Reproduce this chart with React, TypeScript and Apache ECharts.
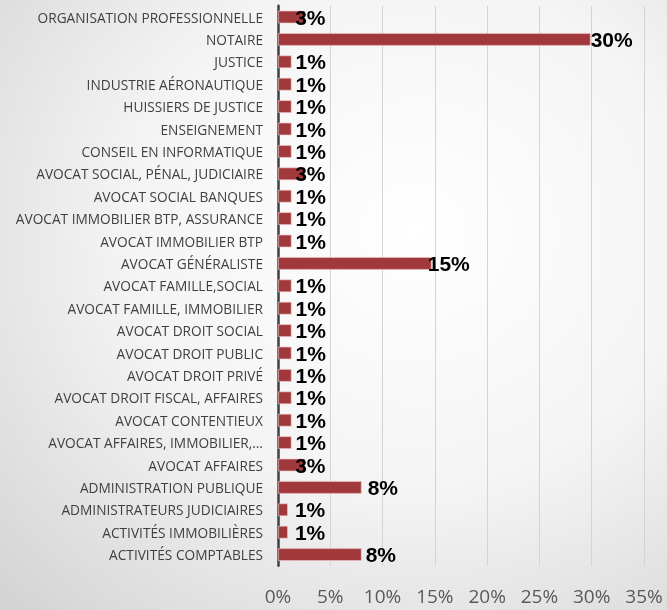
import React, { useEffect, useRef } from "react";
import * as echarts from "echarts";

// Categories, top to bottom as in the picture
const categories: string[] = [
  "ORGANISATION PROFESSIONNELLE",
  "NOTAIRE",
  "JUSTICE",
  "INDUSTRIE AÉRONAUTIQUE",
  "HUISSIERS DE JUSTICE",
  "ENSEIGNEMENT",
  "CONSEIL EN INFORMATIQUE",
  "AVOCAT SOCIAL, PÉNAL, JUDICIAIRE",
  "AVOCAT SOCIAL BANQUES",
  "AVOCAT IMMOBILIER BTP, ASSURANCE",
  "AVOCAT IMMOBILIER BTP",
  "AVOCAT GÉNÉRALISTE",
  "AVOCAT FAMILLE,SOCIAL",
  "AVOCAT FAMILLE, IMMOBILIER",
  "AVOCAT DROIT SOCIAL",
  "AVOCAT DROIT PUBLIC",
  "AVOCAT DROIT PRIVÉ",
  "AVOCAT DROIT FISCAL, AFFAIRES",
  "AVOCAT CONTENTIEUX",
  "AVOCAT AFFAIRES, IMMOBILIER,…",
  "AVOCAT AFFAIRES",
  "ADMINISTRATION PUBLIQUE",
  "ADMINISTRATEURS JUDICIAIRES",
  "ACTIVITÉS IMMOBILIÈRES",
  "ACTIVITÉS COMPTABLES",
];

// Share in percent
const shares: number[] = [
  2.6, 29.9, 1.3, 1.3, 1.3, 1.3, 1.3, 2.6, 1.3, 1.3, 1.3, 14.7, 1.3, 1.3, 1.3,
  1.3, 1.3, 1.3, 1.3, 1.3, 2.6, 8.0, 0.95, 0.95, 8.0,
];

const xTicks: number[] = [0, 5, 10, 15, 20, 25, 30, 35];

// label horizontal nudges (style only)
const labelNudge: Record<number, number> = { 0: -14, 7: -14, 20: -14, 11: -8, 1: -4, 22: 3, 23: 3, 21: 2 };

export default function App() {
  const ref = useRef<HTMLDivElement>(null);
  useEffect(() => {
    if (!ref.current) return;
    const chart = echarts.init(ref.current, undefined, { renderer: "svg" });
    const data = shares.map((v, i) => {
      const item: any = { value: v };
      if (labelNudge[i] !== undefined) {
        item.label = { offset: [labelNudge[i], 0] };
      }
      return item;
    });
    chart.setOption({
      animation: false,
      backgroundColor: new echarts.graphic.RadialGradient(0.62, 0.38, 0.95, [
        { offset: 0, color: "#ffffff" },
        { offset: 0.45, color: "#f4f4f4" },
        { offset: 1, color: "#cdcdcd" },
      ]),
      grid: { left: 278, right: 23, top: 5.8, bottom: 44.2, containLabel: false },
      xAxis: {
        type: "value",
        min: xTicks[0],
        max: xTicks[xTicks.length - 1],
        interval: 5,
        axisLine: { show: false },
        axisTick: { show: false },
        splitLine: { show: true, lineStyle: { color: "#d4d4d4", width: 1 } },
        axisLabel: {
          formatter: "{value}%",
          color: "#595959",
          fontSize: 19,
          fontFamily: "Open Sans",
          margin: 21,
        },
      },
      yAxis: {
        type: "category",
        data: categories,
        inverse: true,
        axisLine: { show: true, lineStyle: { color: "#404040", width: 2.5 } },
        axisTick: { show: false },
        axisLabel: {
          color: "#404040",
          fontSize: 13.7,
          fontFamily: "Open Sans",
          margin: 15,
        },
      },
      series: [
        {
          type: "bar",
          data,
          barCategoryGap: "43%",
          itemStyle: {
            color: "#a1383c",
            borderColor: "rgba(240,200,200,0.8)",
            borderWidth: 0.8,
          },
          label: {
            show: true,
            position: "right",
            distance: 4,
            formatter: (p: any) => Math.round(p.value) + "%",
            color: "#000000",
            fontWeight: "bold",
            fontSize: 21,
            fontFamily: "Liberation Sans",
          },
        },
      ],
    });
    return () => chart.dispose();
  }, []);
  return (
    <div
      ref={ref}
      style={{ position: "fixed", left: 0, top: 0, width: 667, height: 610 }}
    />
  );
}
